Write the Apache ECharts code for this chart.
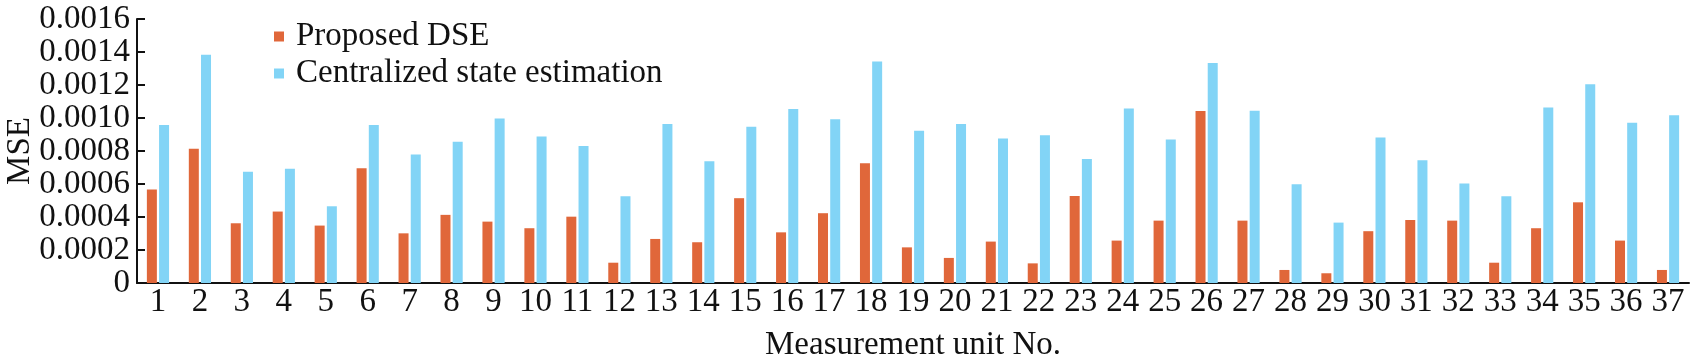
<!DOCTYPE html>
<html>
<head>
<meta charset="utf-8">
<script src="https://cdn.jsdelivr.net/npm/echarts@6/dist/echarts.min.js"></script>
<style>html,body{margin:0;padding:0;background:#fff;}#c{width:1691px;height:362px;}</style>
</head>
<body>
<div id="c"></div>
<script>
const categories = ['1','2','3','4','5','6','7','8','9','10','11','12','13','14','15','16','17','18','19','20','21','22','23','24','25','26','27','28','29','30','31','32','33','34','35','36','37'];
const proposedDSE = [0.000566,0.000813,0.000362,0.000433,0.000348,0.000696,0.000301,0.000413,0.000372,0.000332,0.000402,0.000123,0.000267,0.000247,0.000514,0.000307,0.000423,0.000726,0.000216,0.000152,0.000251,0.000119,0.000528,0.000257,0.000378,0.001042,0.000378,0.000079,0.000059,0.000314,0.000382,0.000378,0.000123,0.000332,0.000489,0.000257,0.000079];
const centralized = [0.000957,0.001383,0.000674,0.000692,0.000465,0.000957,0.000779,0.000856,0.000997,0.000888,0.000831,0.000526,0.000963,0.000738,0.000947,0.001054,0.000993,0.001343,0.000922,0.000963,0.000876,0.000896,0.000752,0.001058,0.000870,0.001333,0.001044,0.000599,0.000366,0.000882,0.000744,0.000603,0.000526,0.001064,0.001205,0.000971,0.001017];
const yTickLabels = ['0','0.0002','0.0004','0.0006','0.0008','0.0010','0.0012','0.0014','0.0016'];

const FONT = '"Liberation Serif","Times New Roman",serif';
const chart = echarts.init(document.getElementById('c'), null, {renderer: 'canvas'});
chart.setOption({
  animation: false,
  backgroundColor: '#fff',
  textStyle: {fontFamily: FONT},
  grid: {left: 137, right: 2, top: 19, bottom: 79, containLabel: false, outerBoundsMode: 'none'},
  legend: {
    left: 269, top: 15, orient: 'vertical', itemWidth: 10, itemHeight: 10, itemGap: 4,
    icon: 'rect',
    textStyle: {fontFamily: FONT, fontSize: 33, color: '#111', padding: [0,0,0,7]},
    data: ['Proposed DSE', 'Centralized state estimation']
  },
  xAxis: {
    type: 'category', data: categories, boundaryGap: true,
    name: 'Measurement unit No.', nameLocation: 'middle', nameGap: 46,
    nameMoveOverlap: false,
    nameTextStyle: {fontFamily: FONT, fontSize: 33, color: '#111'},
    axisLine: {lineStyle: {color: '#111', width: 2}},
    axisTick: {inside: true, length: 7, lineStyle: {color: '#111', width: 2}, alignWithLabel: false},
    axisLabel: {fontFamily: FONT, fontSize: 33, color: '#111', margin: 3, interval: 0, hideOverlap: false},
    splitLine: {show: false}
  },
  yAxis: {
    type: 'value', min: 0, max: 0.0016, interval: 0.0002,
    name: 'MSE', nameLocation: 'middle', nameGap: 100, nameRotate: 90,
    nameMoveOverlap: false,
    nameTextStyle: {fontFamily: FONT, fontSize: 33, color: '#111'},
    axisLine: {show: true, lineStyle: {color: '#111', width: 2}},
    axisTick: {show: true, inside: true, length: 8, lineStyle: {color: '#111', width: 2}},
    axisLabel: {fontFamily: FONT, fontSize: 33, color: '#111', margin: 7,
      showMinLabel: true, showMaxLabel: true, hideOverlap: false,
      formatter: function (v) { const i = Math.round(v / 0.0002); return yTickLabels[i] !== undefined ? yTickLabels[i] : ''; }},
    splitLine: {show: false}
  },
  series: [
    {name: 'Proposed DSE', type: 'bar', data: proposedDSE, barWidth: 10, barGap: '22%', itemStyle: {color: '#E0673A'}},
    {name: 'Centralized state estimation', type: 'bar', data: centralized, barWidth: 10, itemStyle: {color: '#82D4F6'}}
  ]
});
</script>
</body>
</html>
